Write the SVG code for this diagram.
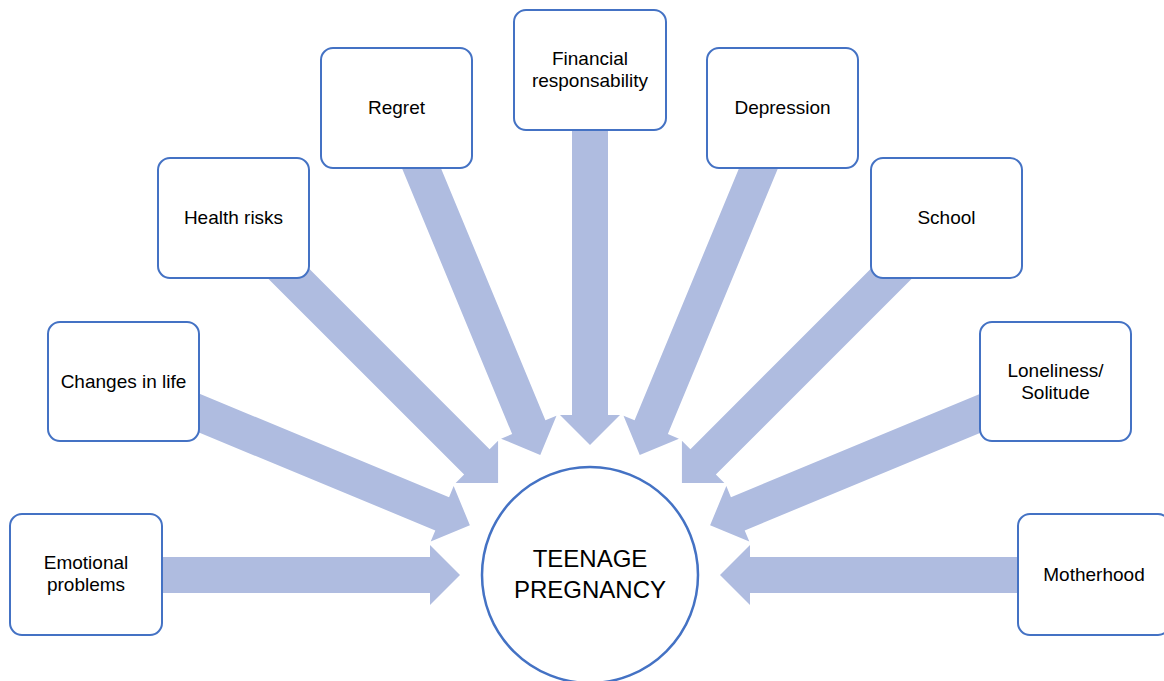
<svg xmlns="http://www.w3.org/2000/svg" width="1164" height="681" viewBox="0 0 1164 681">
<defs>
<style>
.arrow{fill:#AFBCE0;}
.box{fill:#FFFFFF;stroke:#4472C4;stroke-width:2;}
.lbl{font-family:"Liberation Sans",Arial,sans-serif;font-size:19px;fill:#000;text-anchor:middle;}
.big{font-family:"Liberation Sans",Arial,sans-serif;font-size:24px;fill:#000;text-anchor:middle;}
</style>
<polygon id="arr" points="-330,-18 -30,-18 -30,-30 0,0 -30,30 -30,18 -330,18"/>
</defs>
<rect width="1164" height="681" fill="#FFFFFF"/>
<g id="connectors" class="arrow">
<use href="#arr" transform="translate(590,575) rotate(0) translate(-130,0)"/>
<use href="#arr" transform="translate(590,575) rotate(22.5) translate(-130,0)"/>
<use href="#arr" transform="translate(590,575) rotate(45) translate(-130,0)"/>
<use href="#arr" transform="translate(590,575) rotate(67.5) translate(-130,0)"/>
<use href="#arr" transform="translate(590,575) rotate(90) translate(-130,0)"/>
<use href="#arr" transform="translate(590,575) rotate(112.5) translate(-130,0)"/>
<use href="#arr" transform="translate(590,575) rotate(135) translate(-130,0)"/>
<use href="#arr" transform="translate(590,575) rotate(157.5) translate(-130,0)"/>
<use href="#arr" transform="translate(590,575) rotate(180) translate(-130,0)"/>
</g>
<g id="center">
<circle cx="590" cy="575" r="108" fill="#FFFFFF" stroke="#4472C4" stroke-width="2.5"/>
<text class="big" x="590" y="567">TEENAGE</text>
<text class="big" x="590" y="598">PREGNANCY</text>
</g>
<g id="emotional">
<rect class="box" x="10" y="514" width="152" height="121" rx="12"/>
<text class="lbl" x="86" y="569">Emotional</text>
<text class="lbl" x="86" y="591">problems</text>
</g>
<g id="changes">
<rect class="box" x="48" y="322" width="151" height="119" rx="12"/>
<text class="lbl" x="123.5" y="388">Changes in life</text>
</g>
<g id="health">
<rect class="box" x="158" y="158" width="151" height="120" rx="12"/>
<text class="lbl" x="233.5" y="224">Health risks</text>
</g>
<g id="regret">
<rect class="box" x="321" y="48" width="151" height="120" rx="12"/>
<text class="lbl" x="396.5" y="114">Regret</text>
</g>
<g id="financial">
<rect class="box" x="514" y="10" width="152" height="120" rx="12"/>
<text class="lbl" x="590" y="65">Financial</text>
<text class="lbl" x="590" y="87">responsability</text>
</g>
<g id="depression">
<rect class="box" x="707" y="48" width="151" height="120" rx="12"/>
<text class="lbl" x="782.5" y="114">Depression</text>
</g>
<g id="school">
<rect class="box" x="871" y="158" width="151" height="120" rx="12"/>
<text class="lbl" x="946.5" y="224">School</text>
</g>
<g id="loneliness">
<rect class="box" x="980" y="322" width="151" height="119" rx="12"/>
<text class="lbl" x="1055.5" y="377">Loneliness/</text>
<text class="lbl" x="1055.5" y="399">Solitude</text>
</g>
<g id="motherhood">
<rect class="box" x="1018" y="514" width="152" height="121" rx="12"/>
<text class="lbl" x="1094" y="581">Motherhood</text>
</g>
</svg>
